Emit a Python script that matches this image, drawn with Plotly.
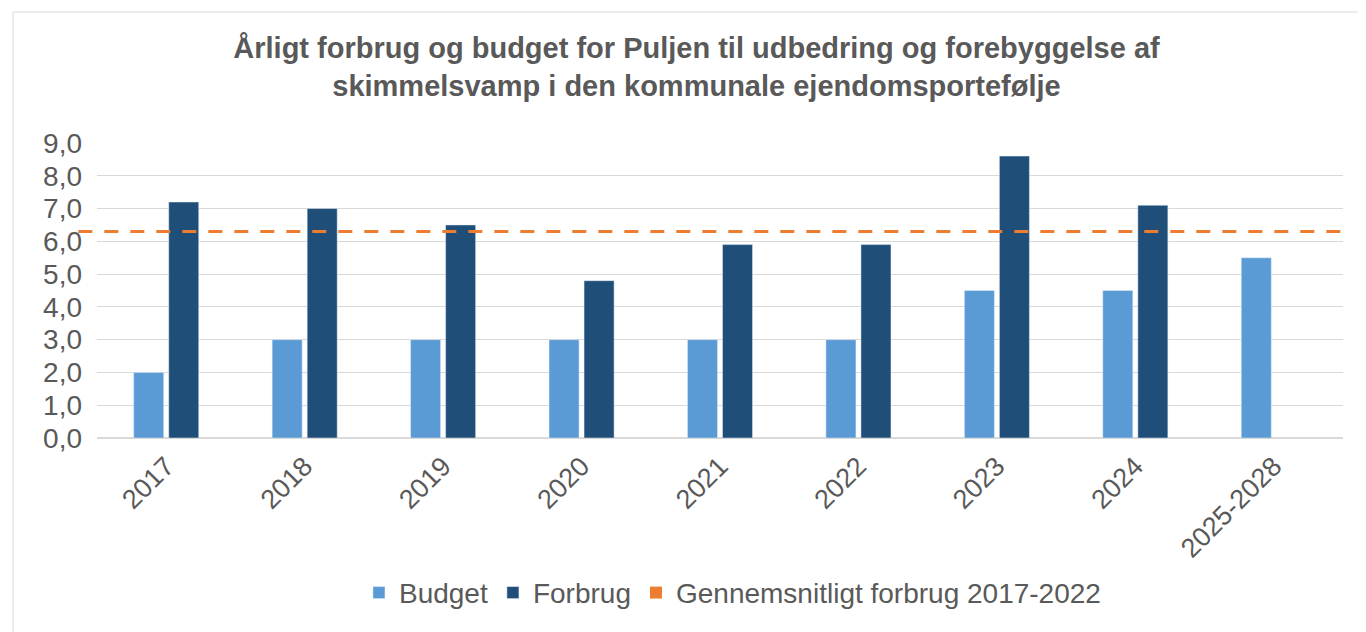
import plotly.graph_objects as go

categories = ["2017", "2018", "2019", "2020", "2021", "2022", "2023", "2024", "2025-2028"]
budget = [2.0, 3.0, 3.0, 3.0, 3.0, 3.0, 4.5, 4.5, 5.5]
forbrug = [7.2, 7.0, 6.5, 4.8, 5.9, 5.9, 8.6, 7.1, None]
avg_forbrug = 6.3
y_ticks = [0, 1, 2, 3, 4, 5, 6, 7, 8, 9]

title_text = ("Årligt forbrug og budget for Puljen til udbedring og forebyggelse af<br>"
              "skimmelsvamp i den kommunale ejendomsportefølje")

FONT = "Liberation Sans, Arial, sans-serif"
TXT = "#595959"
C_BUDGET = "#5B9BD5"
C_FORBRUG = "#1F4E79"
C_AVG = "#ED7D31"

fig = go.Figure()
fig.add_trace(go.Bar(x=categories, y=budget, name="Budget", marker_color=C_BUDGET))
fig.add_trace(go.Bar(x=categories, y=forbrug, name="Forbrug", marker_color=C_FORBRUG))
fig.add_trace(go.Scatter(x=[None], y=[None], mode="markers", name="Gennemsnitligt forbrug 2017-2022",
                         marker=dict(symbol="square", color=C_AVG, size=12)))

fig.add_shape(type="line", xref="paper", yref="y", x0=-0.015, x1=1.0,
              y0=avg_forbrug, y1=avg_forbrug,
              line=dict(color=C_AVG, width=3, dash="14px,12px"))

# chart border
fig.add_shape(type="rect", xref="paper", yref="paper", x0=-0.0674, x1=1.1, y0=-1.0, y1=1.444,
              line=dict(color="#D9D9D9", width=1), fillcolor="rgba(0,0,0,0)", layer="below")

fig.update_layout(
    width=1358, height=624,
    margin=dict(l=89, r=23, t=135, b=194),
    paper_bgcolor="white", plot_bgcolor="white",
    barmode="group", bargap=0.494, bargroupgap=0.143,
    separators=",.",
    font=dict(family=FONT, color=TXT, size=26),
    title=dict(text=title_text, x=0.507, xanchor="center", y=0.92, yanchor="top",
               font=dict(family=FONT, size=29, color=TXT, weight="bold")),
    xaxis=dict(tickangle=-45, tickfont=dict(size=27, color=TXT), showgrid=False,
               showline=False, ticks="", ticklabelstandoff=6),
    yaxis=dict(range=[0, 9], tickvals=y_ticks, tickformat=".1f",
               tickfont=dict(size=28, color=TXT), showgrid=True, gridcolor="#D9D9D9",
               gridwidth=1, zeroline=True, zerolinecolor="#D9D9D9", showline=False, ticks="",
               ticklabelstandoff=14),
    legend=dict(orientation="h", x=0.51, xanchor="center", y=-0.525, yanchor="middle",
                font=dict(size=28, color=TXT), itemwidth=30, traceorder="normal"),
    showlegend=True,
)

fig.write_html("out.html")
